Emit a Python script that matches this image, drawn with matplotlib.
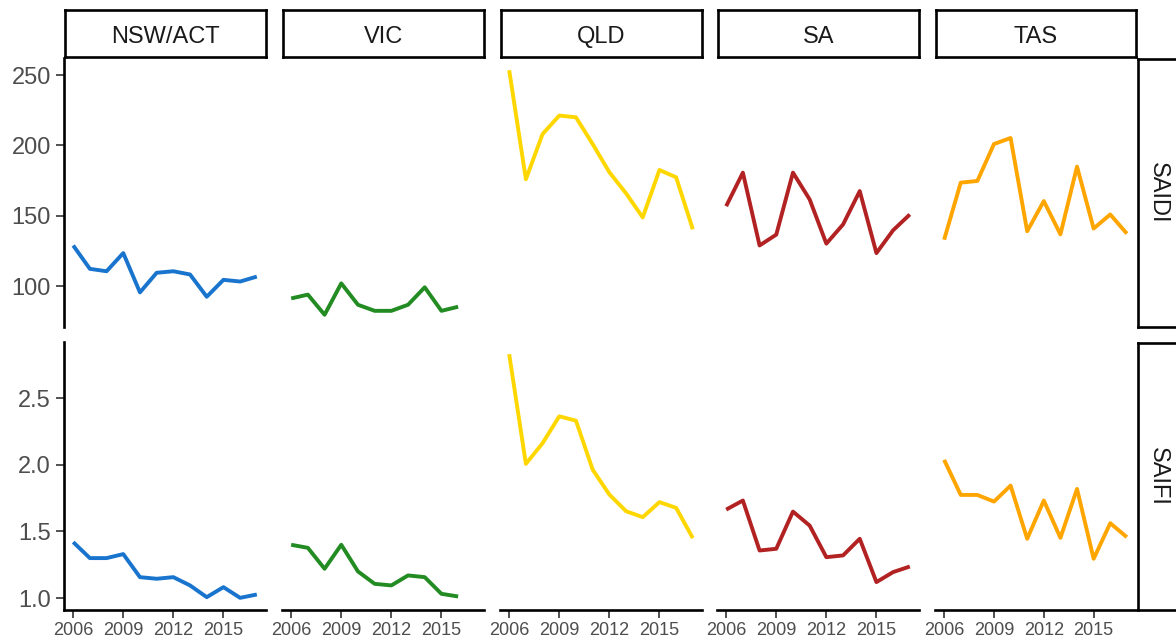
import matplotlib
matplotlib.use("Agg")
import matplotlib.pyplot as plt

plt.rcParams["font.family"] = ["Liberation Sans", "DejaVu Sans"]

years = list(range(2006, 2018))
regions = ["NSW/ACT", "VIC", "QLD", "SA", "TAS"]
metrics = ["SAIDI", "SAIFI"]
region_colors = ["#1874CD", "#228B22", "#FFD700", "#B22222", "#FFA500"]

# SAIDI (minutes) by region
saidi_nsw = [129.0, 112.4, 110.7, 123.6, 95.7, 109.6, 110.7, 108.4, 92.6, 104.6, 103.4, 106.9]
saidi_vic = [91.4, 94.1, 79.8, 102.1, 86.9, 82.6, 82.6, 86.9, 99.3, 82.6, 85.5]
saidi_qld = [253.4, 176.0, 208.1, 221.2, 220.0, 201.0, 181.0, 166.0, 148.9, 182.6, 177.4, 140.5]
saidi_sa = [156.9, 180.7, 129.0, 136.7, 180.7, 161.7, 130.3, 143.9, 167.6, 123.6, 139.8, 151.0]
saidi_tas = [133.1, 173.6, 174.8, 201.0, 205.3, 139.1, 160.5, 136.9, 185.0, 141.0, 151.0, 137.4]

# SAIFI (interruptions) by region
saifi_nsw = [1.42, 1.30, 1.30, 1.33, 1.157, 1.145, 1.157, 1.095, 1.007, 1.082, 1.002, 1.027]
saifi_vic = [1.40, 1.377, 1.22, 1.40, 1.20, 1.107, 1.095, 1.17, 1.157, 1.032, 1.012]
saifi_qld = [2.83, 2.007, 2.162, 2.364, 2.331, 1.964, 1.777, 1.652, 1.607, 1.72, 1.677, 1.45]
saifi_sa = [1.664, 1.732, 1.357, 1.37, 1.649, 1.544, 1.307, 1.32, 1.445, 1.12, 1.195, 1.237]
saifi_tas = [2.037, 1.774, 1.774, 1.724, 1.844, 1.445, 1.732, 1.452, 1.819, 1.295, 1.562, 1.457]

x_breaks = [2006, 2009, 2012, 2015]
saidi_breaks = [100, 150, 200, 250]
saifi_breaks = [1.0, 1.5, 2.0, 2.5]
saidi_labels = ["100", "150", "200", "250"]
saifi_labels = ["1.0", "1.5", "2.0", "2.5"]

series = {
    "SAIDI": [saidi_nsw, saidi_vic, saidi_qld, saidi_sa, saidi_tas],
    "SAIFI": [saifi_nsw, saifi_vic, saifi_qld, saifi_sa, saifi_tas],
}
breaks = {"SAIDI": (saidi_breaks, saidi_labels), "SAIFI": (saifi_breaks, saifi_labels)}

W, H = 1176, 641
fig = plt.figure(figsize=(W / 100, H / 100), dpi=100)
fig.patch.set_facecolor("white")

col_x = [(64, 266), (282, 484), (500, 702), (717, 919), (935, 1136)]
row_y = [(58, 327), (342, 610)]


def frac_rect(x0, x1, y0, y1):
    return [x0 / W, 1 - y1 / H, (x1 - x0) / W, (y1 - y0) / H]


def expanded(vals, mult=0.05):
    lo, hi = min(vals), max(vals)
    pad = (hi - lo) * mult
    return lo - pad, hi + pad


x_lim = expanded(years)
TEXT_GREY = "#4D4D4D"
LW_AXIS = 1.9
STRIP_SIZE = 17

for r, metric in enumerate(metrics):
    all_vals = [v for s in series[metric] for v in s]
    y_lim = expanded(all_vals)
    y0, y1 = row_y[r]
    for c, region in enumerate(regions):
        x0, x1 = col_x[c]
        ax = fig.add_axes(frac_rect(x0, x1, y0, y1))
        vals = series[metric][c]
        ax.plot(years[:len(vals)], vals, color=region_colors[c], lw=2.8,
                solid_capstyle="butt", solid_joinstyle="round")
        ax.set_xlim(*x_lim)
        ax.set_ylim(*y_lim)
        for side in ("top", "right"):
            ax.spines[side].set_visible(False)
        ax.spines["left"].set_visible(c == 0)
        ax.spines["bottom"].set_visible(r == len(metrics) - 1)
        for side in ("left", "bottom"):
            ax.spines[side].set_linewidth(LW_AXIS)
            ax.spines[side].set_color("black")
            ax.spines[side].set_capstyle("projecting")

        if c == 0:
            b, lab = breaks[metric]
            ax.set_yticks(b)
            ax.set_yticklabels(lab)
            ax.tick_params(axis="y", length=5.5, width=1.2, color="#333333",
                           labelsize=17, labelcolor=TEXT_GREY, pad=4)
        else:
            ax.set_yticks([])
        if r == len(metrics) - 1:
            ax.set_xticks(x_breaks)
            ax.set_xticklabels([str(v) for v in x_breaks])
            ax.tick_params(axis="x", length=5.5, width=1.2, color="#333333",
                           labelsize=13, labelcolor=TEXT_GREY, pad=3)
        else:
            ax.set_xticks([])
        ax.patch.set_visible(False)

        # column strips along the top
        if r == 0:
            sx = fig.add_axes(frac_rect(x0 + 1, x1, 10, 57))
            sx.set_xticks([])
            sx.set_yticks([])
            for sp in sx.spines.values():
                sp.set_linewidth(LW_AXIS)
                sp.set_color("black")
            sx.text(0.5, 0.30, region, ha="center", va="baseline", fontsize=STRIP_SIZE,
                    color="#1A1A1A", transform=sx.transAxes)

    # row strip on the right
    ry = fig.add_axes(frac_rect(1138, 1185, y0 + 1, y1))
    ry.set_xticks([])
    ry.set_yticks([])
    for sp in ry.spines.values():
        sp.set_linewidth(LW_AXIS)
        sp.set_color("black")
    ry.text(0.42, 0.5, metric, ha="center", va="center", rotation=-90,
            fontsize=STRIP_SIZE, color="#1A1A1A", transform=ry.transAxes)

fig.savefig("out.png", dpi=100, facecolor="white")
